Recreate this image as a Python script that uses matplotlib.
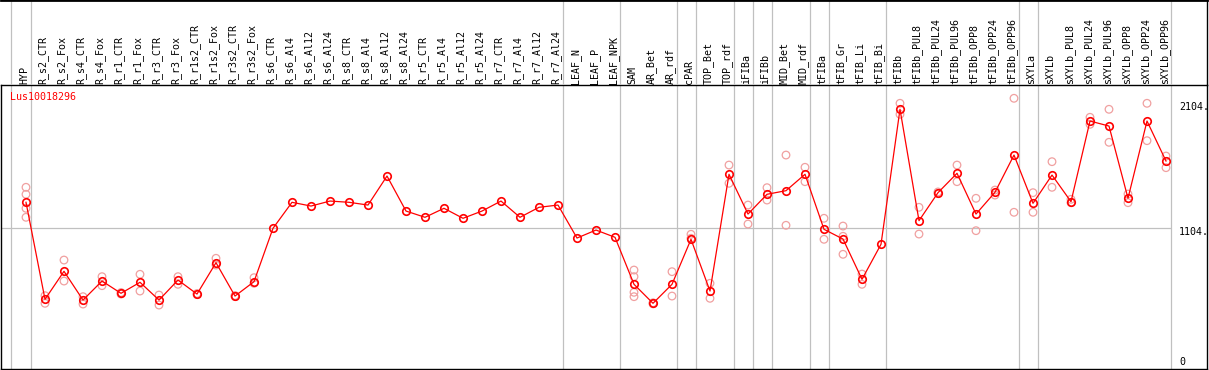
import matplotlib
matplotlib.use("Agg")
import matplotlib.pyplot as plt
from matplotlib.transforms import blended_transform_factory

categories = [
    "HYP", "R_s2_CTR", "R_s2_Fox", "R_s4_CTR", "R_s4_Fox", "R_r1_CTR", "R_r1_Fox",
    "R_r3_CTR", "R_r3_Fox", "R_r1s2_CTR", "R_r1s2_Fox", "R_r3s2_CTR", "R_r3s2_Fox",
    "R_s6_CTR", "R_s6_Al4", "R_s6_Al12", "R_s6_Al24", "R_s8_CTR", "R_s8_Al4",
    "R_s8_Al12", "R_s8_Al24", "R_r5_CTR", "R_r5_Al4", "R_r5_Al12", "R_r5_Al24",
    "R_r7_CTR", "R_r7_Al4", "R_r7_Al12", "R_r7_Al24", "LEAF_N", "LEAF_P", "LEAF_NPK",
    "SAM", "AR_Bet", "AR_rdf", "cPAR", "TOP_Bet", "TOP_rdf", "iFIBa", "iFIBb",
    "MID_Bet", "MID_rdf", "tFIBa", "tFIB_Gr", "tFIB_Li", "tFIB_Bi", "tFIBb",
    "tFIBb_PUL8", "tFIBb_PUL24", "tFIBb_PUL96", "tFIBb_OPP8", "tFIBb_OPP24",
    "tFIBb_OPP96", "sXYLa", "sXYLb", "sXYLb_PUL8", "sXYLb_PUL24", "sXYLb_PUL96",
    "sXYLb_OPP8", "sXYLb_OPP24", "sXYLb_OPP96",
]

means = [
    1312, 536, 760, 530, 682, 584, 672, 530, 690, 578, 829, 562, 677,
    1104, 1312, 1282, 1322, 1312, 1290, 1522, 1242, 1192, 1264, 1184, 1242,
    1322, 1192, 1272, 1290, 1026, 1090, 1032,
    656, 504, 656, 1016, 602, 1536, 1218, 1376, 1405, 1536, 1096, 1018, 696, 976,
    2056, 1165, 1389, 1544, 1218, 1392, 1690,
    1304, 1530, 1317, 1962, 1922, 1344, 1962, 1642,
]

replicates = [
    [1432, 1376, 1264, 1192], [565, 504], [850, 682], [557, 498], [717, 645],
    [590, 578], [736, 602], [570, 490], [717, 656], [582, 574], [864, 810],
    [566, 558], [709, 664],
    [], [], [], [], [], [], [], [], [], [], [], [], [], [], [], [],
    [], [], [],
    [770, 717, 592, 557], [508, 500], [757, 562], [1056, 1024], [664, 544],
    [1610, 1464], [1290, 1138], [1429, 1330], [1690, 1128], [1592, 1477],
    [1184, 1016], [1122, 1040, 896], [738, 656], [],
    [2104, 2016], [1272, 1058], [1395, 1383], [1610, 1477], [1344, 1085],
    [1410, 1370], [2144, 1232],
    [1389, 1232], [1637, 1432], [1336, 1309], [1992, 1936], [2056, 1792],
    [1378, 1309], [2104, 1805], [1682, 1589],
]

group_ends = [0, 28, 31, 34, 35, 37, 38, 39, 41, 42, 45, 52, 53, 60]
y_ticks = [0, 1104, 2104]
y_tick_labels = ["0", "1104.", "2104."]
title = "Lus10018296"

W, H = 1209, 370
FONT = "DejaVu Sans Mono"
FS = 7.2
GRAY = "#c0c0c0"
RED = "#ff0000"
PINK = "#f0a0a0"

fig = plt.figure(figsize=(W / 100, H / 100), dpi=100)

def px2i(px):
    return (px - 26) / 19.0

xlo, xhi = px2i(1), px2i(1207)
ax = fig.add_axes([1 / W, 1 / H, 1206 / W, 284 / H])
ax.set_xlim(xlo, xhi)
ax.set_ylim((366.3 - 369) * 8, (366.3 - 85) * 8)
ax.set_xticks([])
ax.set_yticks([])
for s in ax.spines.values():
    s.set_color("black")
    s.set_linewidth(1.0)

hax = fig.add_axes([1 / W, 285 / H, 1206 / W, 85 / H])
hax.set_xlim(xlo, xhi)
hax.set_ylim(0, 1)
hax.set_xticks([])
hax.set_yticks([])
hax.patch.set_alpha(0)
hax.spines["left"].set_visible(False)
hax.spines["bottom"].set_visible(False)
hax.spines["top"].set_linewidth(2.0)
hax.spines["right"].set_linewidth(1.0)

seps = [px2i(10.7)] + [g + 0.24 for g in group_ends]
for s in seps:
    ax.axvline(s, color=GRAY, lw=0.9, zorder=1)
    hax.axvline(s, color=GRAY, lw=0.9, zorder=1)

ax.hlines(1104, xlo, group_ends[-1] + 0.24, color=GRAY, lw=0.9, zorder=1)

xs = list(range(len(categories)))
rx, ry = [], []
for i, reps in enumerate(replicates):
    for v in reps:
        rx.append(i)
        ry.append(v)
ax.scatter(rx, ry, s=30, facecolors="none", edgecolors=PINK, linewidths=0.9, zorder=3)
ax.plot(xs, means, color=RED, lw=0.9, marker="o", ms=5.4, mfc="none",
        mec=RED, mew=1.2, zorder=4)

trans = blended_transform_factory(hax.transData, fig.transFigure)
for i, c in enumerate(categories):
    hax.text(i - 0.1, 1 - 83.5 / H, c, rotation=90, ha="center", va="bottom",
             fontsize=FS, family=FONT, transform=trans, color="black")

tx = px2i(1179)
for v, lab in zip(y_ticks, y_tick_labels):
    if v == 0:
        ax.annotate(lab, (tx, v), xytext=(0, -0.5), textcoords="offset points",
                    ha="left", va="bottom", fontsize=FS, family=FONT)
    else:
        ax.annotate(lab, (tx, v), xytext=(0, -2.9), textcoords="offset points",
                    ha="left", va="center", fontsize=FS, family=FONT)

fig.text(10 / W, 1 - 97.5 / H, title, color=RED, fontsize=FS, family=FONT,
         ha="left", va="center")

fig.savefig("out.png", dpi=100)
